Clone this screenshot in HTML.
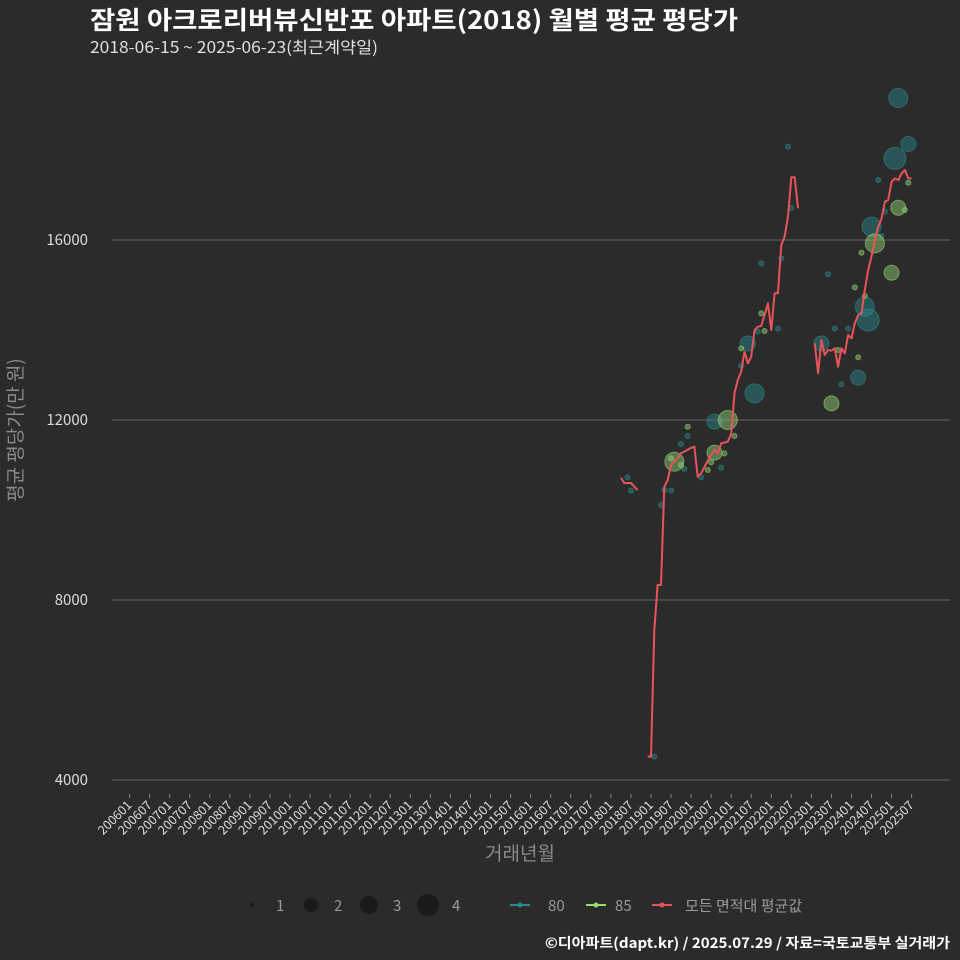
<!DOCTYPE html>
<html><head><meta charset="utf-8"><style>
html,body{margin:0;padding:0;background:#2b2b2c;}
svg{display:block;font-family:"Noto Sans CJK KR","Liberation Sans",sans-serif;}
</style></head><body>
<svg id="chart" width="960" height="960">
<rect width="960" height="960" fill="#2b2b2c"/>
<text x="90" y="29" font-size="25" font-weight="bold" fill="#ffffff" textLength="648" lengthAdjust="spacingAndGlyphs">잠원 아크로리버뷰신반포 아파트(2018) 월별 평균 평당가</text>
<text x="90" y="53" font-size="16" fill="#e0e0e0" textLength="288" lengthAdjust="spacingAndGlyphs">2018-06-15 ~ 2025-06-23(최근계약일)</text>
<g id="grid"></g>
<g id="yticks"></g>
<g id="xticks"></g>
<g id="bubbles"></g>
<g id="lines"></g>
<text transform="translate(22,430) rotate(-90)" text-anchor="middle" font-size="19" fill="#8a8a8a">평균 평당가(만 원)</text>
<text x="520" y="860" text-anchor="middle" font-size="19" fill="#8a8a8a">거래년월</text>
<g font-size="15" fill="#9a9a9a">
<circle cx="252" cy="905" r="2" fill="#1a1a1a"/>
<text x="276" y="911">1</text>
<circle cx="311" cy="905" r="7" fill="#1a1a1a"/>
<text x="334" y="911">2</text>
<circle cx="369" cy="905" r="9" fill="#1a1a1a"/>
<text x="393" y="911">3</text>
<circle cx="428" cy="905" r="11" fill="#1a1a1a"/>
<text x="452" y="911">4</text>
<line x1="510" y1="905" x2="530" y2="905" stroke="#2a8a8c" stroke-width="2"/>
<circle cx="520" cy="905" r="2.5" fill="#2a8a8c"/>
<text x="548" y="911">80</text>
<line x1="586" y1="905" x2="606" y2="905" stroke="#8fe070" stroke-width="2"/>
<circle cx="596" cy="905" r="2.5" fill="#8fe070"/>
<text x="615" y="911">85</text>
<line x1="652" y1="905" x2="672" y2="905" stroke="#e8545a" stroke-width="2"/>
<circle cx="662" cy="905" r="2.5" fill="#e8545a"/>
<text x="685" y="911">모든 면적대 평균값</text>
</g>
<text x="950" y="948" text-anchor="end" font-size="14" font-weight="bold" fill="#ffffff" textLength="405" lengthAdjust="spacingAndGlyphs">©디아파트(dapt.kr) / 2025.07.29 / 자료=국토교통부 실거래가</text>
</svg>
<script>
// month index counted from 2006-01
const yTicks = [4000, 8000, 12000, 16000];
const xLabels = [];
for (let y = 2006; y <= 2025; y++) { xLabels.push(y + "01"); xLabels.push(y + "07"); }
const seg1Months = [147, 148, 150, 152];
const seg1Values = [10718, 10600, 10600, 10444];
const seg2Months = [155,156,157,158,159,160,161,162,163,164,165,166,167,168,169,170,171,172,173,174,175,176,177,178,179,180,181,182,183,184,185,186,187,188,189,190,191,192,193,194,195,196,197,198,199,200];
const seg2Values = [4519,4519,7333,8333,8333,10518,10667,11000,11080,11148,11259,11300,11340,11380,11407,10740,10815,10950,11100,11222,11333,11259,11481,11500,11518,11700,12593,12889,13074,13518,13259,13407,14000,14074,14089,14333,14593,14000,14815,14815,15889,16074,16519,17393,17393,16704];
const seg3Months = [205,206,207,208,209,210,211,212,213,214,215,216,217,218,219,220,221,222,223,224,225,226,227,228,229,230,231,232,233,234];
const seg3Values = [13704,13037,13778,13444,13556,13541,13593,13185,13593,13481,13889,13815,14148,14333,14370,14889,15333,15630,16000,16296,16481,16852,16889,17296,17370,17333,17481,17556,17370,17370];
const tealMonths = [197,230,229,233,224,198,222,225,226,189,195,209,220,221,211,215,194,188,185,207,183,213,218,187,175,167,165,149,150,160,162,159,171,177,166,157];
const tealValues = [18073,19155,17815,18133,17333,16711,16296,16089,16630,15481,15593,15241,14518,14222,14030,14030,14030,13963,13704,13704,13207,12793,12941,12593,11963,11644,11467,10726,10430,10444,10430,10111,10726,10941,10911,4519];
const tealCounts = [1,3,4,2,1,1,3,1,1,1,1,1,3,4,1,1,1,1,2,2,1,1,2,3,2,1,1,1,1,1,1,1,1,1,1,1];
const greenMonths = [230,232,233,223,219,228,217,220,218,212,210,189,190,183,179,181,167,175,178,163,162,165,174,173];
const greenValues = [16717,16667,17272,15926,15717,15272,14948,14756,13393,13555,12370,14370,13977,13592,12000,11644,11851,11273,11259,11073,11148,11000,11059,10889];
const greenCounts = [2,1,1,3,1,2,1,1,1,1,2,1,1,1,3,1,1,2,1,3,1,1,1,1];

const NS = "http://www.w3.org/2000/svg";
const xScale = m => 129.6 + m * 3.342;
const yScale = v => 780 - (v - 4000) * 0.045;
const rScale = c => [0, 2.5, 7.5, 9.5, 11][c];
function mk(tag, attrs, parent) {
  const e = document.createElementNS(NS, tag);
  for (const k in attrs) e.setAttribute(k, attrs[k]);
  parent.appendChild(e);
  return e;
}
const grid = document.getElementById("grid");
const yt = document.getElementById("yticks");
yTicks.forEach(v => {
  const l = mk("line", {x1: 112, x2: 950, y1: yScale(v), y2: yScale(v), stroke: "#666", "stroke-width": 1}, grid);
  
  
  const t = mk("text", {x: 88, y: yScale(v) + 5, "text-anchor": "end", "font-size": 15, fill: "#dcdcdc"}, yt);
  t.textContent = v;
  
  
});
const xt = document.getElementById("xticks");
xLabels.forEach((lab, i) => {
  const x = xScale(i * 6);
  const tk = mk("line", {x1: x, x2: x, y1: 794, y2: 798, stroke: "#888", "stroke-width": 1}, xt);
  
  
  const t = mk("text", {x: x + 3, y: 806, "text-anchor": "end", "font-size": 12.5, fill: "#dcdcdc", transform: "rotate(-45 " + (x + 3) + " 806)"}, xt);
  t.textContent = lab;
  
  
});
const bg = document.getElementById("bubbles");
function bubbles(ms, vs, cs, fill, stroke, name) {
  ms.forEach((m, i) => {
    const c = mk("circle", {cx: xScale(m), cy: yScale(vs[i]), r: rScale(cs[i]), fill: fill, stroke: stroke, "stroke-width": 1}, bg);
    
    
  });
}
bubbles(tealMonths, tealValues, tealCounts, "rgba(42,138,140,0.45)", "rgba(42,138,140,0.6)", "bubble-80");
bubbles(greenMonths, greenValues, greenCounts, "rgba(150,215,115,0.45)", "rgba(150,215,115,0.6)", "bubble-85");
const lg = document.getElementById("lines");
[[seg1Months, seg1Values], [seg2Months, seg2Values], [seg3Months, seg3Values]].forEach(([ms, vs], k) => {
  const d = ms.map((m, i) => (i ? "L" : "M") + xScale(m).toFixed(1) + "," + yScale(vs[i]).toFixed(1)).join("");
  const p = mk("path", {d: d, fill: "none", stroke: "#e8545a", "stroke-width": 2, "stroke-linejoin": "round"}, lg);
  
  
});
</script>
</body></html>
